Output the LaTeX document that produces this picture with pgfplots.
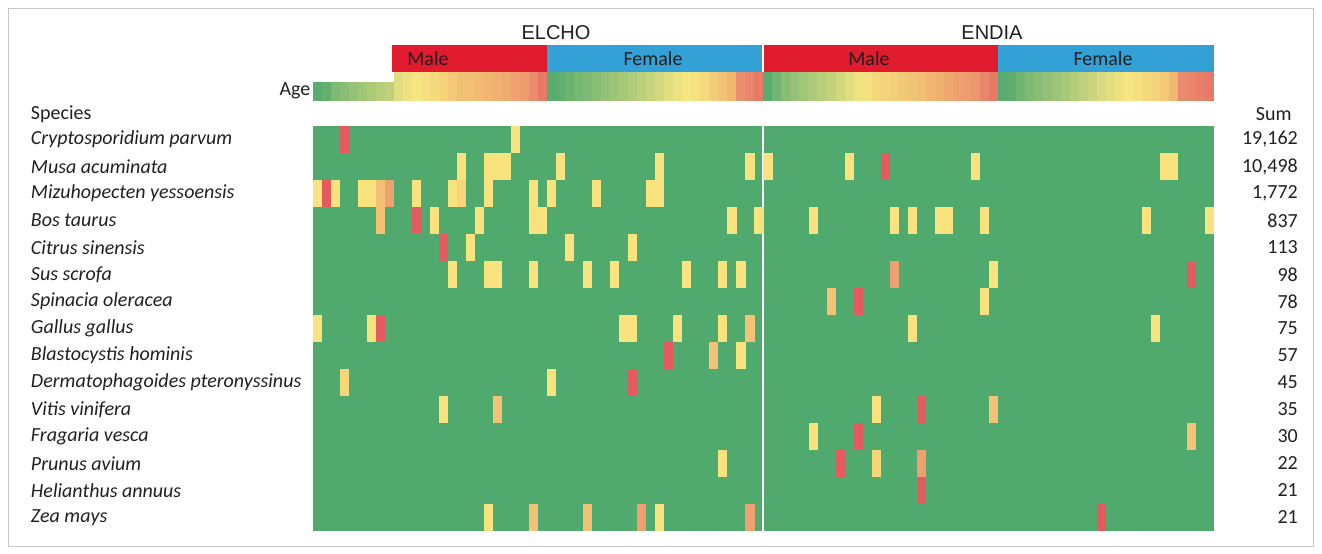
\documentclass[border=0pt]{standalone}
\usepackage{pgfplots}
\pgfplotsset{compat=1.18}
\usepackage{fontspec}
\setmainfont{Carlito}
\newfontfamily\arialf{Liberation Sans}
\definecolor{cgreen}{RGB}{80,170,110}
\definecolor{cyel}{RGB}{249,227,126}
\definecolor{cyo}{RGB}{247,214,122}
\definecolor{corg}{RGB}{244,194,116}
\definecolor{csal}{RGB}{238,160,110}
\definecolor{cred}{RGB}{228,90,95}
\definecolor{sexred}{RGB}{224,27,46}
\definecolor{sexblue}{RGB}{51,160,214}
\definecolor{txt}{RGB}{35,31,32}
\tikzset{lab/.style={font=\fontsize{10}{12}\selectfont, text=txt, inner sep=0pt, outer sep=0pt}}
\pgfdeclareplotmark{cell}{\pgfpathrectangle{\pgfqpoint{-2.27pt}{-6.77pt}}{\pgfqpoint{4.54pt}{13.54pt}}\pgfusepathqfill}
\pgfdeclareplotmark{agecell}{\pgfpathrectangle{\pgfqpoint{-2.28pt}{-7.25pt}}{\pgfqpoint{4.56pt}{14.5pt}}\pgfusepathqfill}
\pgfdeclareplotmark{agecellS}{\pgfpathrectangle{\pgfqpoint{-2.28pt}{-4.75pt}}{\pgfqpoint{4.56pt}{9.5pt}}\pgfusepathqfill}
\begin{document}
\begin{tikzpicture}
\begin{axis}[
  x=4.505pt, y=13.5pt, y dir=reverse,
  xmin=-34.74, xmax=111.99, ymin=-4.667, ymax=15.852,
  hide axis, clip=false,
  colormap={age}{rgb255(0cm)=(82,170,110); rgb255(3cm)=(172,202,122); rgb255(5cm)=(246,230,130); rgb255(7cm)=(241,182,112); rgb255(8.5cm)=(235,142,110); rgb255(10cm)=(226,96,96)},
  point meta min=0, point meta max=1,
]
% picture extent
\path (axis cs:-34.74,-4.667) rectangle (axis cs:111.99,15.852);
% frame
\draw[gray!45, line width=0.5pt] (axis cs:-33.85,-4.37) rectangle (axis cs:111.1,15.556);
% heatmap background
\addplot[fill=cgreen, draw=none] coordinates {(0,0) (100,0) (100,15) (0,15)} -- cycle;
% heatmap non-zero cells
\addplot[scatter, only marks, point meta=explicit symbolic,
  scatter/classes={
    y={mark=cell, fill=cyel, draw=none},
    l={mark=cell, fill=cyo, draw=none},
    o={mark=cell, fill=corg, draw=none},
    s={mark=cell, fill=csal, draw=none},
    r={mark=cell, fill=cred, draw=none}}]
coordinates {
% row 0
(3.5,0.5)[r] (22.5,0.5)[y]
% row 1
(16.5,1.5)[y] (19.5,1.5)[y] (20.5,1.5)[y] (21.5,1.5)[y] (27.5,1.5)[y] (38.5,1.5)[y] (48.5,1.5)[y]
(50.5,1.5)[y] (59.5,1.5)[y] (63.5,1.5)[r] (73.5,1.5)[y] (94.5,1.5)[y] (95.5,1.5)[y]
% row 2
(0.5,2.5)[y] (1.5,2.5)[r] (2.5,2.5)[y] (5.5,2.5)[y] (6.5,2.5)[y] (7.5,2.5)[o] (8.5,2.5)[s] (11.5,2.5)[y]
(15.5,2.5)[y] (16.5,2.5)[l] (19.5,2.5)[y] (24.5,2.5)[y] (26.5,2.5)[y] (31.5,2.5)[y] (37.5,2.5)[y] (38.5,2.5)[y]
% row 3
(7.5,3.5)[o] (11.5,3.5)[r] (13.5,3.5)[y] (18.5,3.5)[y] (24.5,3.5)[y] (25.5,3.5)[y] (46.5,3.5)[y] (49.5,3.5)[y]
(55.5,3.5)[y] (64.5,3.5)[y] (66.5,3.5)[y] (69.5,3.5)[y] (70.5,3.5)[y] (74.5,3.5)[y] (92.5,3.5)[y] (99.5,3.5)[y]
% row 4
(14.5,4.5)[r] (17.5,4.5)[y] (28.5,4.5)[y] (35.5,4.5)[y]
% row 5
(15.5,5.5)[y] (19.5,5.5)[y] (20.5,5.5)[y] (24.5,5.5)[y] (30.5,5.5)[y] (33.5,5.5)[y] (41.5,5.5)[y] (45.5,5.5)[y] (47.5,5.5)[y]
(64.5,5.5)[s] (75.5,5.5)[y] (97.5,5.5)[r]
% row 6
(57.5,6.5)[o] (60.5,6.5)[r] (74.5,6.5)[y]
% row 7
(0.5,7.5)[y] (6.5,7.5)[y] (7.5,7.5)[r] (34.5,7.5)[y] (35.5,7.5)[y] (40.5,7.5)[y] (45.5,7.5)[y] (48.5,7.5)[o]
(66.5,7.5)[y] (93.5,7.5)[y]
% row 8
(39.5,8.5)[r] (44.5,8.5)[o] (47.5,8.5)[y]
% row 9
(3.5,9.5)[l] (26.5,9.5)[y] (35.5,9.5)[r]
% row 10
(14.5,10.5)[y] (20.5,10.5)[o] (62.5,10.5)[y] (67.5,10.5)[r] (75.5,10.5)[o]
% row 11
(55.5,11.5)[y] (60.5,11.5)[r] (97.5,11.5)[o]
% row 12
(45.5,12.5)[y] (58.5,12.5)[r] (62.5,12.5)[l] (67.5,12.5)[s]
% row 13
(67.5,13.5)[r]
% row 14
(19.5,14.5)[y] (24.5,14.5)[o] (30.5,14.5)[o] (36.5,14.5)[s] (38.5,14.5)[y] (48.5,14.5)[s] (87.5,14.5)[r]
};
% age bar, samples without sex
\addplot[scatter, only marks, mark=agecellS, point meta=explicit,
  scatter/use mapped color={fill=mapped color, draw=none}]
coordinates {
(0.5,-1.278)[0.02] (1.5,-1.278)[0.06] (2.5,-1.278)[0.15] (3.5,-1.278)[0.18] (4.5,-1.278)[0.22]
(5.5,-1.278)[0.26] (6.5,-1.278)[0.30] (7.5,-1.278)[0.33] (8.5,-1.278)[0.36]
};
% age bar, samples with sex
\addplot[scatter, only marks, mark=agecell, point meta=explicit,
  scatter/use mapped color={fill=mapped color, draw=none}]
coordinates {
(9.5,-1.463)[0.44] (10.5,-1.463)[0.48] (11.5,-1.463)[0.50] (12.5,-1.463)[0.52] (13.5,-1.463)[0.55]
(14.5,-1.463)[0.58] (15.5,-1.463)[0.62] (16.5,-1.463)[0.65] (17.5,-1.463)[0.66] (18.5,-1.463)[0.68]
(19.5,-1.463)[0.70] (20.5,-1.463)[0.72] (21.5,-1.463)[0.74] (22.5,-1.463)[0.78] (23.5,-1.463)[0.80]
(24.5,-1.463)[0.86] (25.5,-1.463)[0.92]
(26.5,-1.463)[0.02] (27.5,-1.463)[0.04] (28.5,-1.463)[0.08] (29.5,-1.463)[0.12] (30.5,-1.463)[0.15]
(31.5,-1.463)[0.18] (32.5,-1.463)[0.22] (33.5,-1.463)[0.25] (34.5,-1.463)[0.28] (35.5,-1.463)[0.31]
(36.5,-1.463)[0.34] (37.5,-1.463)[0.37] (38.5,-1.463)[0.40] (39.5,-1.463)[0.44] (40.5,-1.463)[0.47]
(41.5,-1.463)[0.50] (42.5,-1.463)[0.52] (43.5,-1.463)[0.55] (44.5,-1.463)[0.60] (45.5,-1.463)[0.64]
(46.5,-1.463)[0.70] (47.5,-1.463)[0.85] (48.5,-1.463)[0.88] (49.5,-1.463)[0.92]
(50.5,-1.463)[0.02] (51.5,-1.463)[0.10] (52.5,-1.463)[0.18] (53.5,-1.463)[0.22] (54.5,-1.463)[0.26]
(55.5,-1.463)[0.30] (56.5,-1.463)[0.33] (57.5,-1.463)[0.36] (58.5,-1.463)[0.40] (59.5,-1.463)[0.44]
(60.5,-1.463)[0.48] (61.5,-1.463)[0.52] (62.5,-1.463)[0.56] (63.5,-1.463)[0.58] (64.5,-1.463)[0.60]
(65.5,-1.463)[0.62] (66.5,-1.463)[0.64] (67.5,-1.463)[0.66] (68.5,-1.463)[0.70] (69.5,-1.463)[0.72]
(70.5,-1.463)[0.75] (71.5,-1.463)[0.78] (72.5,-1.463)[0.80] (73.5,-1.463)[0.82] (74.5,-1.463)[0.88]
(75.5,-1.463)[0.92]
(76.5,-1.463)[0.02] (77.5,-1.463)[0.04] (78.5,-1.463)[0.10] (79.5,-1.463)[0.15] (80.5,-1.463)[0.18]
(81.5,-1.463)[0.22] (82.5,-1.463)[0.25] (83.5,-1.463)[0.28] (84.5,-1.463)[0.32] (85.5,-1.463)[0.35]
(86.5,-1.463)[0.38] (87.5,-1.463)[0.42] (88.5,-1.463)[0.45] (89.5,-1.463)[0.48] (90.5,-1.463)[0.50]
(91.5,-1.463)[0.52] (92.5,-1.463)[0.55] (93.5,-1.463)[0.58] (94.5,-1.463)[0.62] (95.5,-1.463)[0.70]
(96.5,-1.463)[0.86] (97.5,-1.463)[0.88] (98.5,-1.463)[0.90] (99.5,-1.463)[0.92]
};
% sex bars
\addplot[fill=sexred, draw=none] coordinates {(8.8,-3) (26,-3) (26,-2) (8.8,-2)} -- cycle;
\addplot[fill=sexblue, draw=none] coordinates {(26,-3) (50,-3) (50,-2) (26,-2)} -- cycle;
\addplot[fill=sexred, draw=none] coordinates {(50,-3) (76,-3) (76,-2) (50,-2)} -- cycle;
\addplot[fill=sexblue, draw=none] coordinates {(76,-3) (100,-3) (100,-2) (76,-2)} -- cycle;
% separator
\draw[white, line width=1pt] (axis cs:50,-3) -- (axis cs:50,15);
% headers
\node[lab, font=\arialf\fontsize{10}{12}\selectfont] at (axis cs:26.97,-3.444) {ELCHO};
\node[lab, font=\arialf\fontsize{10}{12}\selectfont] at (axis cs:75.36,-3.444) {ENDIA};
\node[lab] at (axis cs:12.76,-2.5) {Male};
\node[lab] at (axis cs:37.74,-2.5) {Female};
\node[lab] at (axis cs:61.71,-2.5) {Male};
\node[lab] at (axis cs:87.68,-2.5) {Female};
\node[lab, anchor=east] at (axis cs:-0.3,-1.30) {Age};
\node[lab, anchor=west] at (axis cs:-31.3,-0.444) {Species};
\node[lab, anchor=west] at (axis cs:104.66,-0.444) {Sum};
% species labels
\foreach \lab [count=\i from 0] in {Cryptosporidium parvum, Musa acuminata, Mizuhopecten yessoensis, Bos taurus,
  Citrus sinensis, Sus scrofa, Spinacia oleracea, Gallus gallus, Blastocystis hominis,
  Dermatophagoides pteronyssinus, Vitis vinifera, Fragaria vesca, Prunus avium, Helianthus annuus, Zea mays}
  {\edef\tmp{\noexpand\node[lab, anchor=west] at (axis cs:-31.3,\i+0.5) {\noexpand\itshape \lab};}\tmp}
\foreach \v [count=\i from 0] in {19{,}162, 10{,}498, 1{,}772, 837, 113, 98, 78, 75, 57, 45, 35, 30, 22, 21, 21}
  {\edef\tmp{\noexpand\node[lab, anchor=east] at (axis cs:109.3,\i+0.5) {\v};}\tmp}
\end{axis}
\end{tikzpicture}
\end{document}
